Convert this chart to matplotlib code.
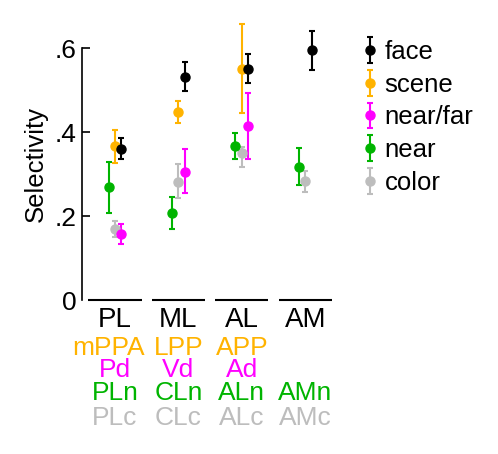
import matplotlib.pyplot as plt

plt.rcParams['font.family'] = ['Liberation Sans', 'DejaVu Sans']

groups = ['PL', 'ML', 'AL', 'AM']

# selectivity per group (None = no patch), with lower / upper error bar ends
face = [0.360, 0.532, 0.549, 0.595]
face_lo = [0.335, 0.498, 0.516, 0.548]
face_hi = [0.387, 0.567, 0.586, 0.640]

scene = [0.367, 0.448, 0.551, None]
scene_lo = [0.327, 0.421, 0.446, None]
scene_hi = [0.406, 0.474, 0.657, None]

nearfar = [0.157, 0.306, 0.414, None]
nearfar_lo = [0.133, 0.254, 0.337, None]
nearfar_hi = [0.180, 0.360, 0.494, None]

near = [0.270, 0.208, 0.367, 0.317]
near_lo = [0.208, 0.170, 0.337, 0.274]
near_hi = [0.329, 0.246, 0.397, 0.362]

color = [0.170, 0.282, 0.349, 0.283]
color_lo = [0.151, 0.242, 0.317, 0.257]
color_hi = [0.188, 0.323, 0.364, 0.308]

scene_names = ['mPPA', 'LPP', 'APP', '']
nearfar_names = ['Pd', 'Vd', 'Ad', '']
near_names = ['PLn', 'CLn', 'ALn', 'AMn']
color_names = ['PLc', 'CLc', 'ALc', 'AMc']

c_face = 'black'
c_scene = '#FFB300'
c_nearfar = '#FF00FF'
c_near = '#00B400'
c_color = '#BDBDBD'

fig = plt.figure(figsize=(4.98, 4.54), dpi=100)
ax = fig.add_axes([0.1647, 0.339, 0.503, 0.62])


def draw(vals, lo, hi, col, offset, label):
    xs, ys, el, eh = [], [], [], []
    for i, v in enumerate(vals):
        if v is None:
            continue
        xs.append(i + offset)
        ys.append(v)
        el.append(v - lo[i])
        eh.append(hi[i] - v)
    return ax.errorbar(xs, ys, yerr=[el, eh], fmt='o', color=col, ms=6.5,
                       elinewidth=1.5, capsize=2.5, capthick=1.5, label=label)


h_color = draw(color, color_lo, color_hi, c_color, 0.0, 'color')
h_near = draw(near, near_lo, near_hi, c_near, -0.1, 'near')
h_scene = draw(scene, scene_lo, scene_hi, c_scene, 0.0, 'scene')
h_nearfar = draw(nearfar, nearfar_lo, nearfar_hi, c_nearfar, 0.1, 'near/far')
h_face = draw(face, face_lo, face_hi, c_face, 0.1, 'face')

# group underlines on the zero line
for i in range(len(groups)):
    ax.plot([i - 0.42, i + 0.42], [0, 0], color='black', lw=1.5,
            solid_capstyle='butt', clip_on=False)

ax.set_xlim(-0.52, 3.43)
ax.set_ylim(0, 0.67)
ax.set_xticks([])
ax.set_yticks([0, 0.2, 0.4, 0.6])
ax.set_yticklabels(['0', '.2', '.4', '.6'], fontsize=19)
ax.tick_params(axis='y', direction='in', length=6, width=1.2, pad=4)
ax.yaxis.get_major_ticks()[0].tick1line.set_visible(False)
for s in ['top', 'right', 'bottom']:
    ax.spines[s].set_visible(False)
ax.spines['left'].set_bounds(0, 0.6)
ax.spines['left'].set_linewidth(1.2)
ax.set_ylabel('Selectivity', fontsize=18.5)
ax.yaxis.set_label_coords(-0.135, 0.485)

# area labels under the axis
rows = [(groups, 'black', -0.0636, 20),
        (scene_names, c_scene, -0.131, 19),
        (nearfar_names, c_nearfar, -0.183, 19),
        (near_names, c_near, -0.238, 19),
        (color_names, c_color, -0.298, 19)]
for names, col, yy, fs in rows:
    for i, name in enumerate(names):
        # the long first scene name sits a little left of its group
        dx = -0.1 if name == 'mPPA' else 0
        ax.text(i + dx, yy, name, color=col, fontsize=fs, ha='center',
                va='baseline', clip_on=False)

ax.legend(handles=[h_face, h_scene, h_nearfar, h_near, h_color],
          loc='upper left', bbox_to_anchor=(0.731, 0.912),
          bbox_transform=fig.transFigure, frameon=False, fontsize=18.5,
          handlelength=0.5, handletextpad=0.3, labelspacing=0.34,
          borderpad=0, borderaxespad=0)

fig.savefig('out.png', dpi=100)
